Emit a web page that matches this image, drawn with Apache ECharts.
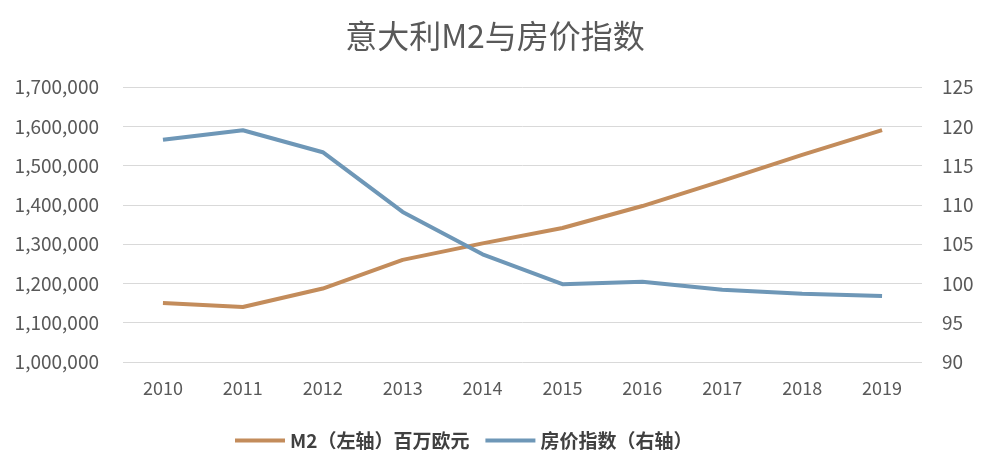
<!DOCTYPE html>
<html>
<head>
<meta charset="utf-8">
<script src="https://cdn.jsdelivr.net/npm/echarts@6/dist/echarts.min.js"></script>
<style>
  html, body { margin: 0; padding: 0; background: #fff; }
  #chart { width: 990px; height: 465px; }
</style>
</head>
<body>
<div id="chart"></div>
<script>
// data
const years = ['2010', '2011', '2012', '2013', '2014', '2015', '2016', '2017', '2018', '2019'];
const m2 = [1150000, 1140000, 1187000, 1260000, 1302000, 1341000, 1397000, 1461000, 1527000, 1590000];
const housePrice = [118.3, 119.5, 116.7, 109.1, 103.7, 99.9, 100.2, 99.2, 98.7, 98.4];

const font = '"Noto Sans CJK SC", "Open Sans", sans-serif';
const labelColor = '#595959';

const myChart = echarts.init(document.getElementById('chart'));

const option = {
  backgroundColor: '#fff',
  textStyle: { fontFamily: font },
  title: {
    text: '意大利M2与房价指数',
    left: 'center',
    top: 15,
    textStyle: { fontSize: 32, fontWeight: 'normal', color: labelColor, fontFamily: font }
  },
  legend: {
    bottom: 10,
    left: 230,
    itemWidth: 50,
    itemHeight: 4,
    itemGap: 16,
    icon: 'rect',
    textStyle: { fontSize: 19, fontWeight: 'bold', color: '#404040', fontFamily: font },
    data: ['M2（左轴）百万欧元', '房价指数（右轴）']
  },
  grid: { left: 123, right: 68, top: 87, bottom: 103 },
  xAxis: {
    type: 'category',
    data: years,
    boundaryGap: true,
    axisLine: { show: false },
    axisTick: { show: false },
    axisLabel: { color: labelColor, fontSize: 18, margin: 17 }
  },
  yAxis: [
    {
      type: 'value',
      min: 1000000,
      max: 1700000,
      interval: 100000,
      axisLine: { show: false },
      axisTick: { show: false },
      splitLine: { lineStyle: { color: '#d9d9d9', width: 1 } },
      axisLabel: {
        color: labelColor,
        fontSize: 19,
        margin: 24,
        formatter: v => v.toLocaleString('en-US')
      }
    },
    {
      type: 'value',
      min: 90,
      max: 125,
      interval: 5,
      axisLine: { show: false },
      axisTick: { show: false },
      splitLine: { show: false },
      axisLabel: { color: labelColor, fontSize: 19, margin: 20 }
    }
  ],
  series: [
    {
      name: 'M2（左轴）百万欧元',
      type: 'line',
      data: m2,
      yAxisIndex: 0,
      symbol: 'none',
      lineStyle: { color: '#c38c5b', width: 4 },
      itemStyle: { color: '#c38c5b' }
    },
    {
      name: '房价指数（右轴）',
      type: 'line',
      data: housePrice,
      yAxisIndex: 1,
      symbol: 'none',
      lineStyle: { color: '#6e97b7', width: 4 },
      itemStyle: { color: '#6e97b7' }
    }
  ]
};

myChart.setOption(option);
</script>
</body>
</html>
